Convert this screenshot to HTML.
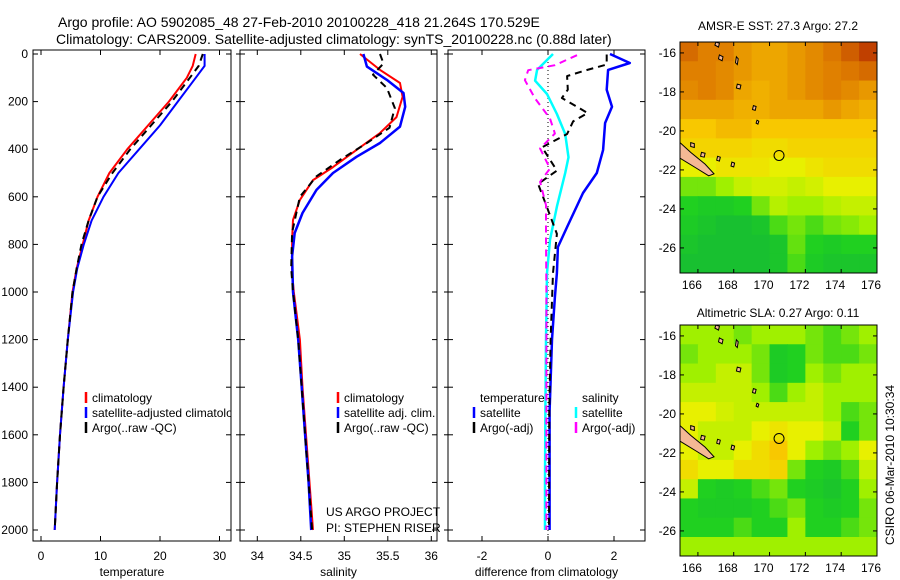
<!DOCTYPE html>
<html><head><meta charset="utf-8"><style>
body{margin:0;background:#fff;}
svg{display:block;font-family:"Liberation Sans",sans-serif;}
</style></head><body>
<svg id="chart" width="900" height="580" viewBox="0 0 900 580">
<text x="58" y="27" font-size="14">Argo profile: AO 5902085_48 27-Feb-2010 20100228_418 21.264S 170.529E</text>
<text x="56" y="44" font-size="14">Climatology: CARS2009. Satellite-adjusted climatology: synTS_20100228.nc (0.88d later)</text>
<text x="778" y="30" font-size="12" text-anchor="middle">AMSR-E SST: 27.3 Argo: 27.2</text>
<text x="778" y="317" font-size="12" text-anchor="middle">Altimetric SLA: 0.27 Argo: 0.11</text>
<text x="0" y="0" font-size="12" text-anchor="middle" transform="translate(894,465) rotate(-90)">CSIRO 06-Mar-2010 10:30:34</text>
<g id="g"></g>
</svg>
<script>
// pressure levels (dbar)
const pT = [0,50,100,200,300,400,500,600,700,800,900,1000,1200,1400,1600,1800,2000];
const tempClim = [26,25.5,24.5,21.5,18,14.5,11.5,9.5,8,7,6,5.3,4.5,3.8,3.2,2.7,2.3];
const tempSat  = [27.5,27.5,26,23,20,16.5,13,10.5,8.5,7.2,6.1,5.4,4.5,3.8,3.2,2.7,2.3];
const tempArgo = [27.2,26.5,25,22,18.5,15,12,9.5,8,6.8,6,5.3,4.5,3.8,3.2,2.7,2.3];

const pSC = [0,67,122,180,265,332,403,475,530,613,697,781,920,1000,1200,1400,1600,1800,2000];
const salClim = [35.18,35.41,35.64,35.67,35.6,35.41,35.14,34.87,34.64,34.49,34.41,34.4,34.4,34.42,34.49,34.52,34.56,34.6,34.64];
const pSS = [0,53,109,164,222,305,374,432,500,571,668,752,850,1000,1200,1400,1600,1800,2000];
const salSat = [35.22,35.26,35.49,35.68,35.7,35.64,35.41,35.14,34.87,34.68,34.52,34.43,34.4,34.41,34.47,34.51,34.55,34.59,34.62];
const pSA = [0,40,87,143,227,310,374,445,514,600,750,900,1000,1200,1400,1600,1800,2000];
const salArgo = [35.41,35.45,35.33,35.49,35.58,35.52,35.26,34.95,34.68,34.49,34.4,34.39,34.41,34.47,34.51,34.55,34.59,34.63];

const pDT = [0,38,67,150,222,290,403,500,584,727,811,920,1021,1200,1500,1800,2000];
const dTempSat = [1.88,2.48,1.82,1.78,1.94,1.73,1.67,1.48,1.06,0.58,0.3,0.27,0.21,0.12,0.05,0.05,0.05];
const pDS = [0,67,112,168,252,336,434,500,641,781,920,1200,1500,1800,2000];
const dSalSat = [0.15,-0.33,-0.39,-0.03,0.27,0.52,0.62,0.52,0.27,0.06,-0.03,-0.06,-0.08,-0.09,-0.09];
const pDTA = [2,44,72,93,150,185,248,283,336,392,490,546,644,756,920,1200,1500,2000];
const dTempArgo = [1.78,1.78,1.06,0.58,0.6,0.42,1.2,0.76,0.58,-0.18,0.27,-0.3,-0.03,0.27,0.15,0.08,0.04,0.03];
const pDSA = [5,47,68,110,187,271,334,397,481,537,635,776,1000,1500,2000];
const dSalArgo = [0.88,0.21,-0.6,-0.7,-0.39,0.06,0.21,-0.24,0.06,-0.24,-0.06,-0.06,-0.05,-0.05,-0.05];

const yTicks = [0,200,400,600,800,1000,1200,1400,1600,1800,2000];
const tTicks = [0,10,20,30];
const sTicks = [34,34.5,35,35.5,36];
const dTicks = [-2,0,2];

// map data (rows north->south, cols west->east, normalized colour index)
const sstGrid = [
[.85,.8,.8,.75,.72,.72,.75,.78,.82,.88,.95],
[.8,.8,.78,.75,.72,.72,.75,.78,.8,.82,.85],
[.78,.8,.78,.72,.7,.72,.75,.78,.8,.78,.75],
[.72,.72,.72,.7,.7,.72,.72,.72,.75,.72,.7],
[.65,.65,.68,.68,.65,.65,.65,.65,.65,.65,.65],
[.62,.62,.62,.62,.6,.6,.62,.62,.62,.62,.62],
[.55,.55,.58,.58,.58,.55,.55,.58,.6,.6,.6],
[.4,.4,.45,.5,.52,.52,.5,.52,.55,.55,.55],
[.3,.25,.25,.3,.4,.48,.45,.45,.48,.5,.5],
[.25,.2,.15,.15,.2,.35,.4,.35,.4,.42,.45],
[.2,.15,.15,.15,.15,.2,.38,.3,.25,.3,.3],
[.15,.15,.15,.15,.15,.2,.35,.25,.2,.2,.2]];
const slaGrid = [
[.45,.45,.45,.4,.45,.45,.45,.4,.35,.4,.45],
[.4,.45,.45,.45,.4,.25,.3,.4,.35,.35,.4],
[.45,.45,.5,.5,.4,.25,.3,.45,.4,.45,.45],
[.5,.5,.5,.5,.45,.35,.45,.5,.45,.45,.45],
[.55,.55,.52,.5,.5,.5,.5,.5,.45,.35,.4],
[.55,.5,.5,.5,.55,.58,.55,.55,.5,.3,.4],
[.55,.5,.5,.55,.6,.65,.55,.45,.4,.45,.55],
[.6,.55,.55,.6,.6,.62,.4,.3,.25,.35,.5],
[.5,.3,.25,.3,.35,.4,.3,.25,.2,.3,.45],
[.3,.25,.25,.25,.3,.35,.4,.3,.25,.3,.4],
[.3,.3,.3,.35,.3,.3,.45,.3,.3,.35,.4],
[.45,.45,.45,.45,.45,.45,.45,.45,.45,.45,.45]];
const lonTicks = [166,168,170,172,174,176];
const latTicks = [-16,-18,-20,-22,-24,-26];
const floatLon = 170.53, floatLat = -21.26;
const islands = [
 [[165,-20.6],[165.6,-21.1],[166.4,-21.7],[166.9,-22.2],[166.6,-22.3],[165.9,-21.9],[165,-21.4]],
 [[167.0,-15.45],[167.2,-15.5],[167.15,-15.7],[166.95,-15.6]],
 [[167.2,-16.1],[167.4,-16.2],[167.35,-16.4],[167.15,-16.3]],
 [[168.15,-16.2],[168.25,-16.3],[168.2,-16.6],[168.1,-16.5]],
 [[168.2,-17.6],[168.4,-17.65],[168.35,-17.85],[168.15,-17.8]],
 [[169.1,-18.7],[169.25,-18.75],[169.2,-18.95],[169.05,-18.9]],
 [[169.3,-19.45],[169.4,-19.5],[169.35,-19.65],[169.25,-19.6]],
 [[165.6,-20.6],[165.8,-20.65],[165.8,-20.85],[165.6,-20.8]],
 [[166.2,-21.1],[166.4,-21.15],[166.35,-21.35],[166.15,-21.3]],
 [[167.1,-21.3],[167.25,-21.35],[167.2,-21.55],[167.05,-21.5]],
 [[167.9,-21.6],[168.05,-21.65],[168.0,-21.85],[167.85,-21.8]]
];

const NS="http://www.w3.org/2000/svg";
const G=document.getElementById('g');
function mk(tag,attrs,parent){const e=document.createElementNS(NS,tag);for(const k in attrs)e.setAttribute(k,attrs[k]);(parent||G).appendChild(e);return e;}
const Y0=54, Y1=530;
const yP = p => Y0 + (p/2000)*(Y1-Y0);
const panels=[
 {x0:33,x1:231,f:v=>41+v*5.95,ticks:tTicks,label:'temperature',name:'temperature-panel'},
 {x0:240,x1:437,f:v=>257.3+(v-34)*87,ticks:sTicks,label:'salinity',name:'salinity-panel'},
 {x0:448,x1:645,f:v=>548+v*33,ticks:dTicks,label:'difference from climatology',name:'difference-panel'}
];
panels.forEach((P,i)=>{
  const g=mk('g',{});
  
  
  const clipId='clip'+i;
  const cp=mk('clipPath',{id:clipId},g); mk('rect',{x:P.x0,y:50,width:P.x1-P.x0,height:491},cp);
  const r=mk('rect',{x:P.x0,y:50,width:P.x1-P.x0,height:491,fill:'none',stroke:'#000','stroke-width':1},g);
  
  
  yTicks.forEach(t=>{
    const y=yP(t);
    mk('line',{x1:P.x0,x2:P.x0+5,y1:y,y2:y,stroke:'#000'},g);
    mk('line',{x1:P.x1,x2:P.x1-5,y1:y,y2:y,stroke:'#000'},g);
    if(i===0){const tx=mk('text',{x:28,y:y+4,'font-size':12,'text-anchor':'end'},g);tx.textContent=t;
      
      }
    else {mk('line',{x1:P.x0-4,x2:P.x0,y1:y,y2:y,stroke:'#000'},g);}
  });
  P.ticks.forEach(t=>{
    const x=P.f(t);
    mk('line',{x1:x,x2:x,y1:50,y2:55,stroke:'#000'},g);
    mk('line',{x1:x,x2:x,y1:541,y2:536,stroke:'#000'},g);
    const tx=mk('text',{x:x,y:560,'font-size':12,'text-anchor':'middle'},g);tx.textContent=t;
    
    
  });
  const xl=mk('text',{x:(P.x0+P.x1)/2,y:576,'font-size':12,'text-anchor':'middle'},g);xl.textContent=P.label;
  
  
  P.clip='url(#'+clipId+')'; P.g=g;
});
function line(P,vals,ps,color,dash,w,name){
  const d=vals.map((v,k)=>(k?'L':'M')+P.f(v).toFixed(1)+','+yP(ps[k]).toFixed(1)).join('');
  const e=mk('path',{d:d,fill:'none',stroke:color,'stroke-width':w,'clip-path':P.clip,'stroke-dasharray':dash||'none','stroke-linejoin':'round'},P.g);
  
  
}
const [P1,P2,P3]=panels;
line(P1,tempClim,pT,'#f00',null,2,'temp-climatology-line');
line(P1,tempSat,pT,'#00f',null,2,'temp-satellite-line');
line(P1,tempArgo,pT,'#000','7,5',2,'temp-argo-line');
line(P2,salClim,pSC,'#f00',null,2,'sal-climatology-line');
line(P2,salSat,pSS,'#00f',null,2.5,'sal-satellite-line');
line(P2,salArgo,pSA,'#000','7,5',2,'sal-argo-line');
const z=mk('line',{x1:P3.f(0),x2:P3.f(0),y1:50,y2:541,stroke:'#000','stroke-dasharray':'1,3'},P3.g);


line(P3,dTempSat,pDT,'#00f',null,2.5,'diff-temp-satellite-line');
line(P3,dSalSat,pDS,'#0ff',null,2.5,'diff-sal-satellite-line');
line(P3,dTempArgo,pDTA,'#000','7,5',2,'diff-temp-argo-line');
line(P3,dSalArgo,pDSA,'#f0f','7,5',2,'diff-sal-argo-line');

function legend(x,y,color,text,name,parent){
  const g=mk('g',{},parent);
  
  
  mk('line',{x1:x,x2:x,y1:y-10,y2:y+1,stroke:color,'stroke-width':2.5},g);
  const t=mk('text',{x:x+6,y:y,'font-size':12},g);t.textContent=text;
}
const lc=mk('clipPath',{id:'lc'});mk('rect',{x:33,y:50,width:198,height:491},lc);
const lg=mk('g',{'clip-path':'url(#lc)'});
legend(86,402,'#f00','climatology','legend-climatology',lg);
legend(86,417,'#00f','satellite-adjusted climatology','legend-satellite',lg);
legend(86,432,'#000','Argo(..raw -QC)','legend-argo',lg);
legend(338,402,'#f00','climatology','legend2-climatology');
legend(338,417,'#00f','satellite adj. clim.','legend2-satellite');
legend(338,432,'#000','Argo(..raw -QC)','legend2-argo');
let t=mk('text',{x:480,y:402,'font-size':12});t.textContent='temperature';

t=mk('text',{x:582,y:402,'font-size':12});t.textContent='salinity';

legend(474,417,'#00f','satellite','legend3-temp-satellite');
legend(474,432,'#000','Argo(-adj)','legend3-temp-argo');
legend(576,417,'#0ff','satellite','legend3-sal-satellite');
legend(576,432,'#f0f','Argo(-adj)','legend3-sal-argo');
t=mk('text',{x:326,y:516,'font-size':12});t.textContent='US ARGO PROJECT';

t=mk('text',{x:326,y:532,'font-size':12});t.textContent='PI: STEPHEN RISER';


// colormap
const stops=[[0,[16,176,64]],[0.3,[32,208,32]],[0.45,[160,240,0]],[0.55,[232,240,0]],[0.65,[248,200,0]],[0.8,[224,128,0]],[0.95,[192,64,0]],[1,[160,16,0]]];
function cmap(v){for(let i=1;i<stops.length;i++){if(v<=stops[i][0]){const a=stops[i-1],b=stops[i],f=(v-a[0])/(b[0]-a[0]);return 'rgb('+a[1].map((c,k)=>Math.round(c+(b[1][k]-c)*f)).join(',')+')';}}return 'rgb(160,16,0)';}
function drawMap(top,grid,name){
  const x0=680,x1=877,y0=top,y1=top+231;
  const lx=l=>x0+(l-165)*(x1-x0)/11;
  const ly=l=>y0+(-15.44-l)*19.5;
  const g=mk('g',{});
  
  
  const cid='mc'+top;const cp=mk('clipPath',{id:cid},g);mk('rect',{x:x0,y:y0,width:x1-x0,height:y1-y0},cp);
  const hg=mk('g',{'clip-path':'url(#'+cid+')'},g);
  const rows=grid.length,cols=grid[0].length;
  grid.forEach((row,r)=>row.forEach((v,c)=>{
    const cx=lx(165+c),cy=ly(-15.44-r*(11.86/rows));
    const cell=mk('rect',{x:cx,y:cy,width:(x1-x0)/cols+0.6,height:(y1-y0)/rows+0.6,fill:cmap(v)},hg);
    
    
  }));
  islands.forEach(poly=>{
    const e=mk('polygon',{points:poly.map(p=>lx(p[0]).toFixed(1)+','+ly(p[1]).toFixed(1)).join(' '),fill:'#f5b894',stroke:'#000','stroke-width':1},hg);
    
    
  });
  const fc=mk('circle',{cx:lx(floatLon),cy:ly(floatLat),r:5,fill:'none',stroke:'#000','stroke-width':1},hg);
  
  
  mk('rect',{x:x0,y:y0,width:x1-x0,height:y1-y0,fill:'none',stroke:'#000'},g);
  lonTicks.forEach(l=>{const x=lx(l);mk('line',{x1:x,x2:x,y1:y0,y2:y0+4,stroke:'#000'},g);mk('line',{x1:x,x2:x,y1:y1,y2:y1-4,stroke:'#000'},g);
    const tx=mk('text',{x:x-6,y:y1+16,'font-size':12,'text-anchor':'middle'},g);tx.textContent=l;
    });
  latTicks.forEach(l=>{const y=ly(l);mk('line',{x1:x0,x2:x0+4,y1:y,y2:y,stroke:'#000'},g);mk('line',{x1:x1,x2:x1-4,y1:y,y2:y,stroke:'#000'},g);
    const tx=mk('text',{x:676,y:y+4,'font-size':12,'text-anchor':'end'},g);tx.textContent=l;
    });
}
drawMap(42,sstGrid,'sst-map');
drawMap(325,slaGrid,'sla-map');
</script>
</body></html>
